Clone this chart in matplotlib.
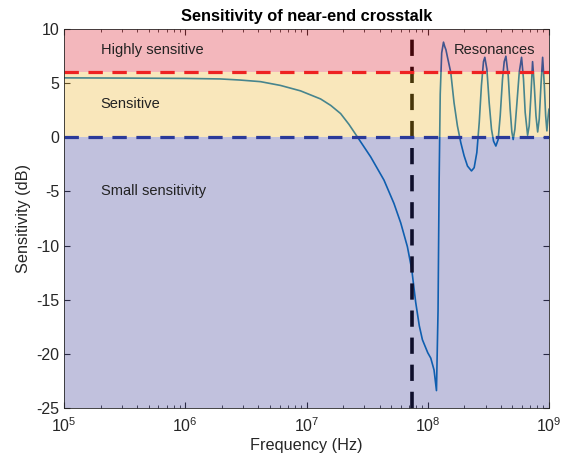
import matplotlib.pyplot as plt
import numpy as np

plt.rcParams['font.family'] = ['Liberation Sans', 'DejaVu Sans']
plt.rcParams['axes.unicode_minus'] = False

# log10 of frequency (Hz) and sensitivity (dB)
log_freq = [5.0, 5.5, 6.0, 6.289, 6.45, 6.62, 6.785, 6.95, 7.116, 7.2, 7.281,
            7.35, 7.419, 7.529, 7.639, 7.721, 7.777, 7.832, 7.868, 7.90, 7.93,
            7.956, 8.0, 8.025, 8.052, 8.072,
            8.085, 8.094, 8.103, 8.115, 8.130, 8.140, 8.150, 8.163, 8.190, 8.217,
            8.245, 8.273, 8.300, 8.328, 8.361, 8.383, 8.405, 8.425, 8.443, 8.460,
            8.471, 8.488, 8.507, 8.526, 8.543, 8.562, 8.581, 8.598, 8.617, 8.631,
            8.645, 8.664, 8.680, 8.694, 8.705, 8.719, 8.736, 8.755, 8.774, 8.790,
            8.804, 8.824, 8.837, 8.851, 8.865, 8.879, 8.893, 8.907, 8.920, 8.934,
            8.948, 8.962, 8.973, 8.983, 8.994, 9.0]
sens_db = [5.5, 5.48, 5.45, 5.4, 5.3, 5.15, 4.8, 4.3, 3.55, 2.95, 2.2,
           1.2, 0.05, -1.8, -3.95, -6.1, -7.9, -10.1, -12.2, -15.2, -17.4,
           -18.7, -19.9, -20.4, -21.5, -23.4,
           -16.0, -4.0, 4.0, 7.8, 8.8, 8.4, 8.1, 7.4, 6.0, 3.2,
           1.05, -0.5, -1.7, -2.65, -3.1, -2.8, -1.4, 1.4, 4.8, 7.0,
           7.4, 6.3, 3.2, 0.75, -0.35, -0.8, -0.2, 2.0, 5.4, 7.0,
           7.5, 5.7, 2.6, 0.5, -0.2, 0.75, 3.2, 6.0, 7.4, 5.4,
           2.3, 0.2, 1.05, 3.8, 7.0, 4.8, 2.0, 0.5, 1.7, 4.8,
           7.4, 4.8, 2.0, 0.6, 2.0, 2.6]

freq = 10 ** np.array(log_freq)

band_limits = [(6, 10), (0, 6), (-25, 0)]
band_colors = ['#da1223', '#edb120', '#33338f']
band_labels = ['Highly sensitive', 'Sensitive', 'Small sensitivity']
label_y = [8.1, 3.1, -5.0]

f_cut = 7.45e7

fig = plt.figure(figsize=(5.73, 4.63), dpi=100)
ax = fig.add_axes([0.112, 0.119, 0.846, 0.818])

ax.plot(freq, sens_db, color='#0072bd', lw=1.2, zorder=2)
ax.axvline(f_cut, color='black', lw=2.6, dashes=(4.5, 3), zorder=2)

for (lo, hi), c in zip(band_limits, band_colors):
    ax.axhspan(lo, hi, color=c, alpha=0.3, lw=0, zorder=3)

ax.axhline(6, color='#ee2222', lw=2.3, dashes=(4.5, 3), zorder=4)
ax.axhline(0, color='#2b3a9a', lw=2.3, dashes=(4.5, 3), zorder=4)

for txt, y in zip(band_labels, label_y):
    ax.text(2e5, y, txt, fontsize=10.5, va='center', color='#222222', zorder=5)
ax.text(1.65e8, 8.1, 'Resonances', fontsize=10.5, va='center', color='#222222', zorder=5)

ax.set_xscale('log')
ax.set_xlim(1e5, 1e9)
ax.set_ylim(-25, 10)
ax.set_yticks(range(-25, 11, 5))
ax.set_xticks([1e5, 1e6, 1e7, 1e8, 1e9])

ax.tick_params(which='both', direction='in', top=True, right=True,
               colors='#262626', labelsize=11.5)
ax.tick_params(axis='x', which='major', pad=6)
ax.tick_params(which='major', length=4)
ax.tick_params(which='minor', length=2)
for s in ax.spines.values():
    s.set_color('#262626')
    s.set_linewidth(0.6)
    s.set_zorder(6)

ax.set_xlabel('Frequency (Hz)', fontsize=11.7, color='#262626', labelpad=2)
ax.set_ylabel('Sensitivity (dB)', fontsize=11.7, color='#262626', labelpad=4)
ax.set_title('Sensitivity of near-end crosstalk', fontsize=11.8, fontweight='bold', pad=6)

fig.savefig('out.png', dpi=100)
